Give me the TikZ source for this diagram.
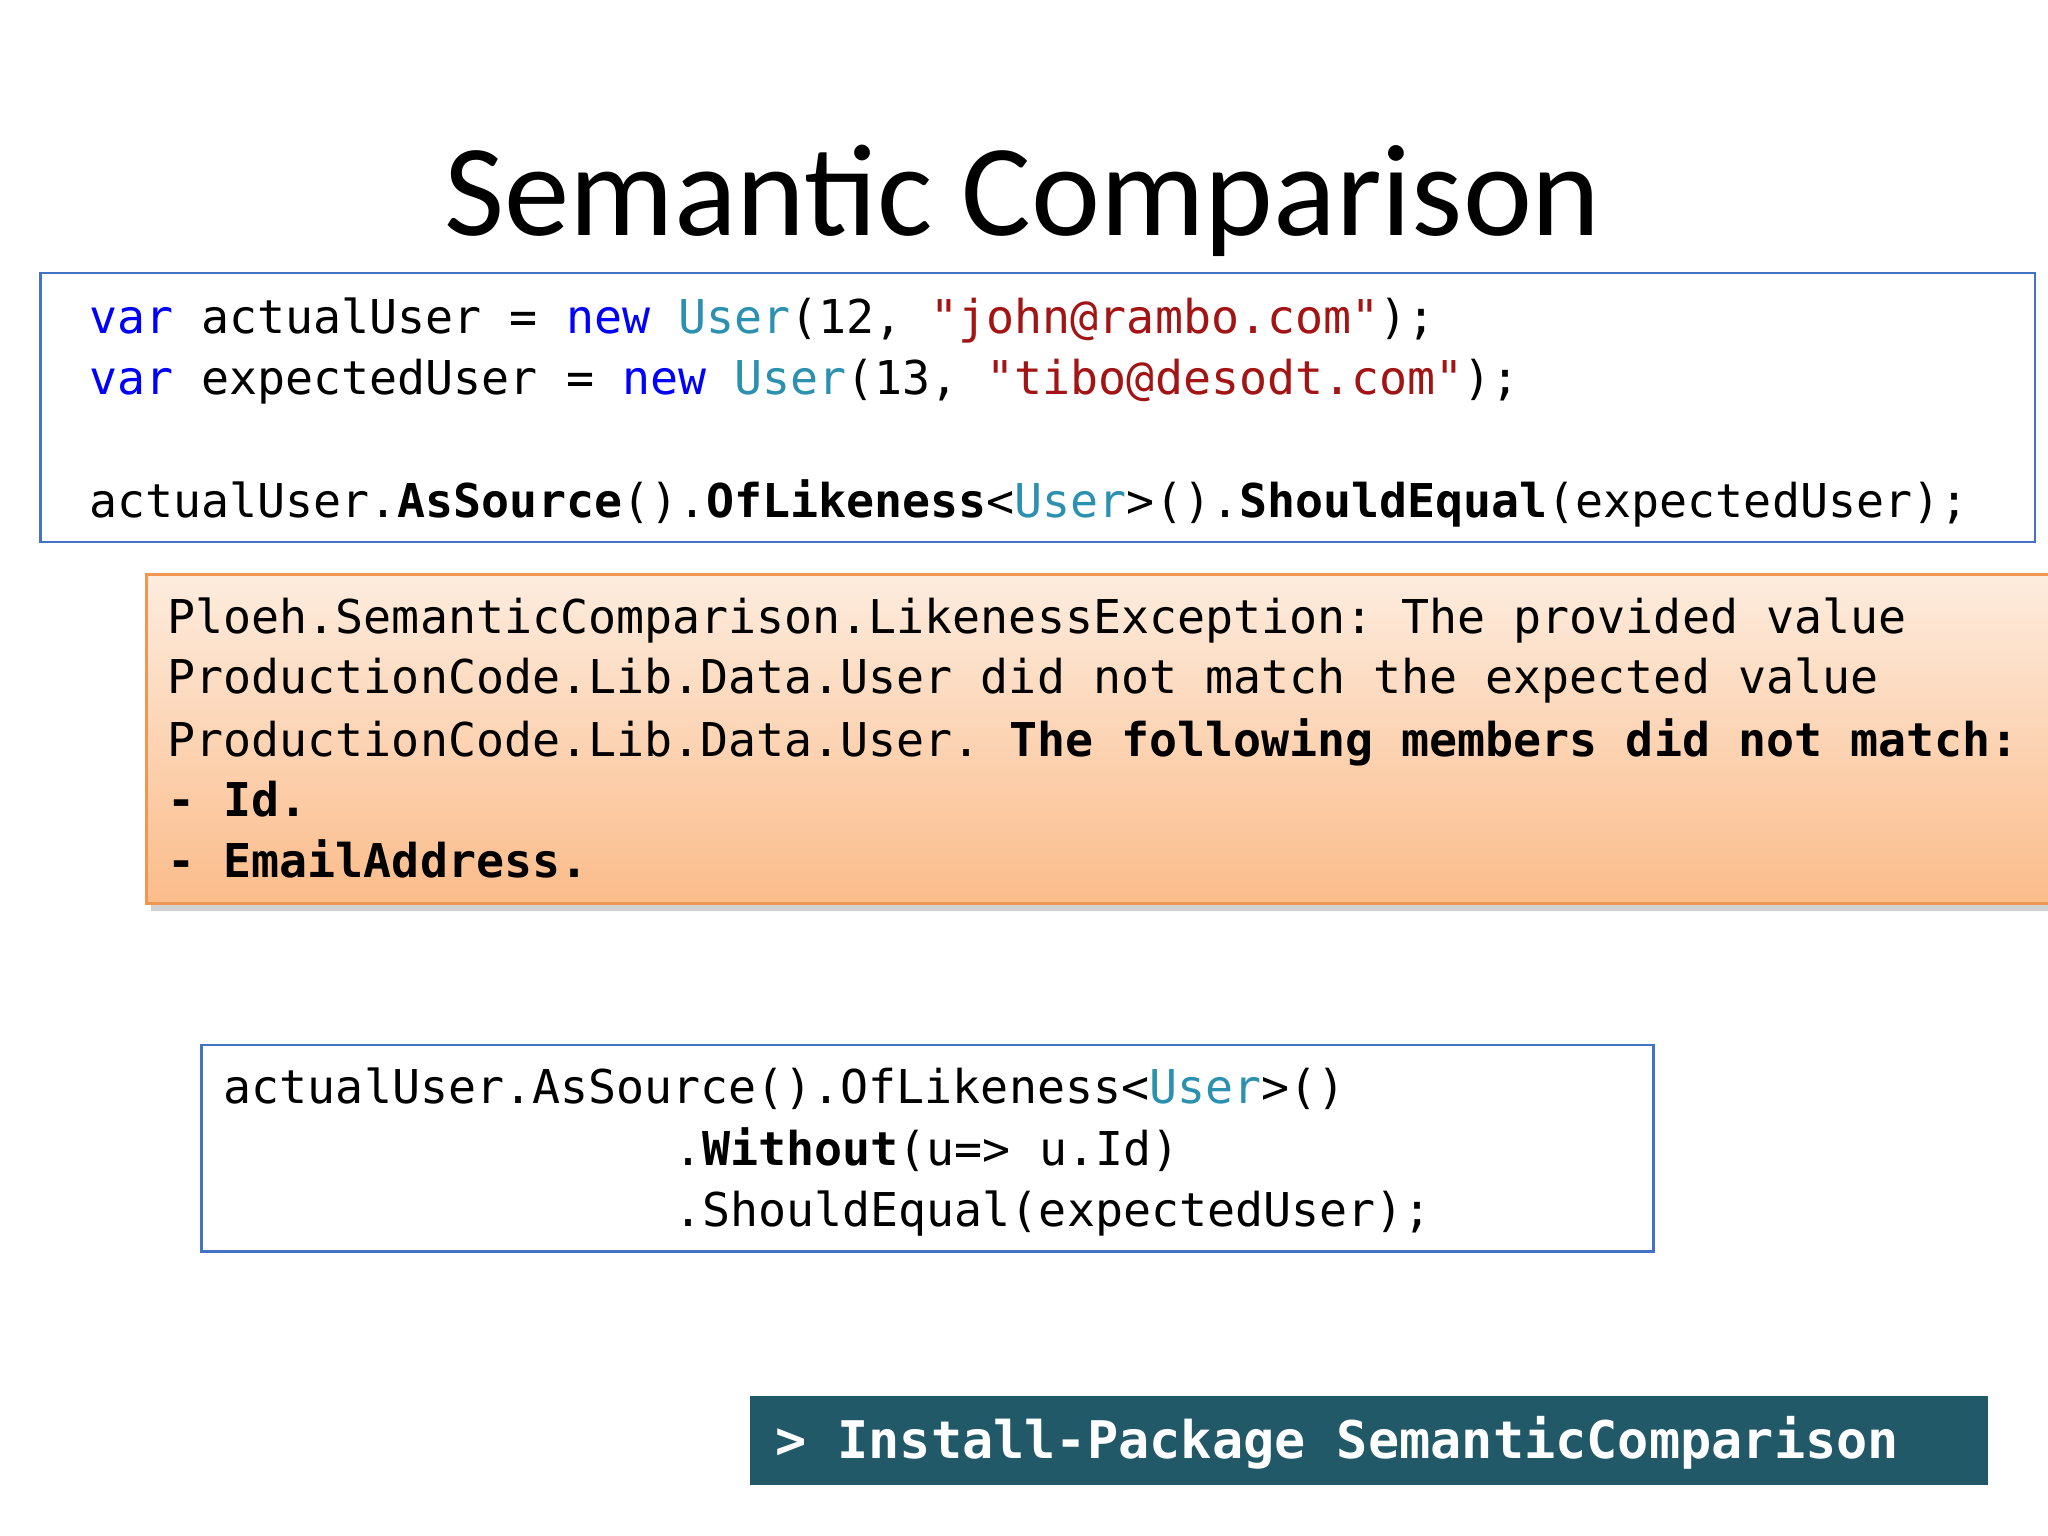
\documentclass[tikz,border=0pt]{standalone}
\usepackage{fontspec}
\setmainfont{Carlito}
\setmonofont{DejaVu Sans Mono}
\usetikzlibrary{shadows}
\definecolor{kw}{RGB}{0,0,255}
\definecolor{ty}{RGB}{43,145,175}
\definecolor{st}{RGB}{163,21,21}
\definecolor{bx}{RGB}{68,114,196}
\definecolor{teal}{RGB}{33,89,104}
\definecolor{otop}{RGB}{253,236,222}
\definecolor{obot}{RGB}{251,188,138}
\definecolor{oline}{RGB}{240,150,80}
\tikzset{code/.style={anchor=base west,inner sep=0pt,font=\ttfamily\fontsize{20.3}{24}\selectfont},
 codebox/.style={draw=bx,line width=1.2pt}}
\begin{document}
\begin{tikzpicture}[x=0.02cm,y=-0.02cm]
\useasboundingbox (0,0) rectangle (1568,1176);
\fill[white] (0,0) rectangle (1568,1176);
\node[inner sep=0pt,anchor=base,font=\fontsize{57}{64}\selectfont] (title) at (783,180) {Semantic Comparison};
\draw[codebox] (31,209) rectangle (1558,415);
\node[code] (l1) at (68,255) {\textcolor{kw}{var} actualUser = \textcolor{kw}{new} \textcolor{ty}{User}(12, \textcolor{st}{"john@rambo.com"});};
\node[code] (l2) at (68,302) {\textcolor{kw}{var} expectedUser = \textcolor{kw}{new} \textcolor{ty}{User}(13, \textcolor{st}{"tibo@desodt.com"});};
\node[code] (l3) at (68,396) {actualUser.\textbf{AsSource}().\textbf{OfLikeness}<\textcolor{ty}{User}>().\textbf{ShouldEqual}(expectedUser);};
\shade[top color=otop,bottom color=obot,draw=oline,line width=1.2pt,drop shadow={opacity=0.35,shadow xshift=2pt,shadow yshift=-3pt}] (112,440) rectangle (1575,692);
\node[code] (o1) at (128,485) {Ploeh.SemanticComparison.LikenessException: The provided value};
\node[code] (o2) at (128,531) {ProductionCode.Lib.Data.User did not match the expected value};
\node[code] (o3) at (128,579) {ProductionCode.Lib.Data.User. \textbf{The following members did not match:}};
\node[code] (o4) at (128,625) {\textbf{- Id.}};
\node[code] (o5) at (128,672) {\textbf{- EmailAddress.}};
\draw[codebox] (154,800) rectangle (1266,958);
\node[code] (c1) at (171,845) {actualUser.AsSource().OfLikeness<\textcolor{ty}{User}>()};
\node[code] (c2) at (516,892) {.\textbf{Without}(u=> u.Id)};
\node[code] (c3) at (516,939) {.ShouldEqual(expectedUser);};
\fill[teal] (574,1069) rectangle (1522,1137);
\node[code,text=white,font=\ttfamily\bfseries\fontsize{22.6}{26}\selectfont] (pkg) at (593,1117) {> Install-Package SemanticComparison};
\end{tikzpicture}
\end{document}
